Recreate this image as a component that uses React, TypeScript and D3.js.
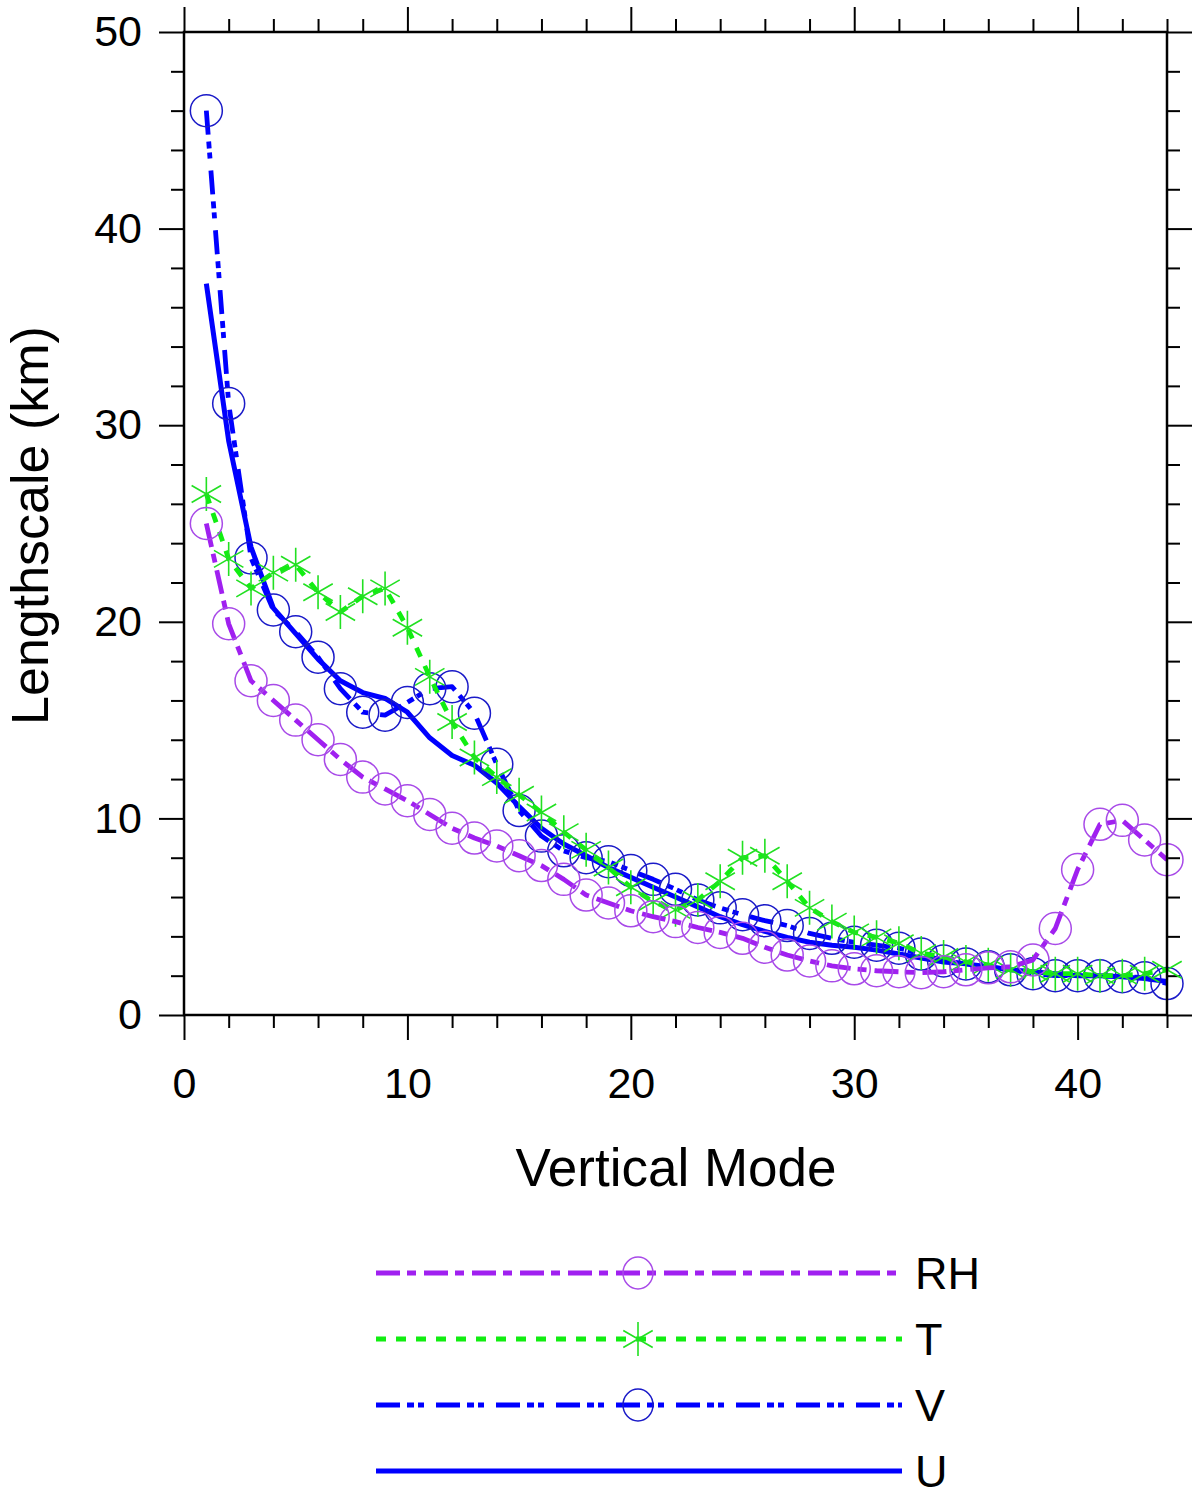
import React, { useRef, useEffect } from "react";
import * as d3 from "d3";

// vertical mode index (x)
const modes = [
  1, 2, 3, 4, 5, 6, 7, 8, 9, 10, 11, 12, 13, 14, 15, 16, 17, 18, 19, 20, 21, 22,
  23, 24, 25, 26, 27, 28, 29, 30, 31, 32, 33, 34, 35, 36, 37, 38, 39, 40, 41, 42, 43, 44,
];

// lengthscale (km) per variable
const rhValues = [
  25.0, 19.9, 17.0, 16.0, 15.0, 14.0, 13.0, 12.1, 11.5, 10.9, 10.2, 9.5, 9.0, 8.6, 8.1,
  7.6, 6.9, 6.1, 5.7, 5.3, 5.0, 4.75, 4.45, 4.2, 3.9, 3.45, 3.05, 2.75, 2.5, 2.35, 2.25,
  2.2, 2.15, 2.2, 2.3, 2.4, 2.45, 2.8, 4.4, 7.4, 9.7, 9.9, 8.9, 7.9,
];
const tValues = [
  26.5, 23.2, 21.7, 22.5, 22.9, 21.5, 20.5, 21.3, 21.7, 19.7, 17.2, 14.9, 13.1, 12.1,
  11.2, 10.3, 9.3, 8.4, 7.5, 6.5, 5.75, 5.35, 5.85, 6.8, 8.0, 8.1, 6.8, 5.45, 4.75, 4.2,
  3.95, 3.65, 3.15, 2.95, 2.7, 2.55, 2.3, 2.2, 2.1, 2.1, 2.0, 2.0, 2.1, 2.3,
];
const vValues = [
  46.0, 31.1, 23.25, 20.6, 19.5, 18.2, 16.6, 15.4, 15.25, 15.9, 16.6, 16.7, 15.35, 12.75,
  10.4, 9.1, 8.35, 8.0, 7.8, 7.35, 6.9, 6.4, 5.85, 5.45, 5.1, 4.8, 4.55, 4.15, 3.9, 3.7,
  3.55, 3.4, 3.1, 2.75, 2.6, 2.45, 2.3, 2.1, 2.0, 2.0, 2.0, 1.95, 1.9, 1.6,
];
const uValues = [
  37.2, 29.2, 23.8, 20.7, 19.4, 18.1, 17.0, 16.4, 16.1, 15.4, 14.1, 13.2, 12.7, 11.8,
  10.6, 9.5, 8.7, 8.1, 7.5, 7.0, 6.5, 6.0, 5.5, 5.0, 4.6, 4.25, 3.95, 3.7, 3.55, 3.45,
  3.3, 3.1, 2.9, 2.7, 2.6, 2.45, 2.3, 2.2, 2.1, 2.0, 2.0, 1.95, 1.85, 1.7,
];

const xMajor = [0, 10, 20, 30, 40];
const xMinor = [2, 4, 6, 8, 12, 14, 16, 18, 22, 24, 26, 28, 32, 34, 36, 38, 42, 44];
const yMajor = [0, 10, 20, 30, 40, 50];
const yMinor = [2, 4, 6, 8, 12, 14, 16, 18, 22, 24, 26, 28, 32, 34, 36, 38, 42, 44, 46, 48];

const legendLabels = ["RH", "T", "V", "U"];

const FONT = "'Liberation Sans', Arial, Helvetica, sans-serif";

type Series = {
  name: string;
  values: number[];
  color: string;
  markerColor: string;
  dash: string | null;
  width: number;
  marker: "circle" | "star" | null;
};

const series: Series[] = [
  { name: "U", values: uValues, color: "#0000ff", markerColor: "#0000ff", dash: null, width: 5, marker: null },
  { name: "V", values: vValues, color: "#0000ff", markerColor: "#1a1ac8", dash: "24,7,7,4,6,12", width: 4.8, marker: "circle" },
  { name: "T", values: tValues, color: "#11ee11", markerColor: "#22e022", dash: "10,10", width: 4.8, marker: "star" },
  { name: "RH", values: rhValues, color: "#a020f0", markerColor: "#a84ae8", dash: "24,7,9,8", width: 4.8, marker: "circle" },
];

const starPath = (r: number) => {
  const a = Math.PI / 6;
  const dx = r * Math.cos(a);
  const dy = r * Math.sin(a);
  return `M0,${-r}L0,${r}M${-dx},${-dy}L${dx},${dy}M${-dx},${dy}L${dx},${-dy}`;
};

const Chart: React.FC = () => {
  const svgRef = useRef<SVGSVGElement | null>(null);
  const width = 1200;
  const height = 1496;

  useEffect(() => {
    if (!svgRef.current) return;
    const svg = d3.select(svgRef.current);
    svg.selectAll("*").remove();

    const left = 184;
    const right = 1167;
    const top = 32;
    const bottom = 1015;

    const x = d3.scaleLinear().domain([0, 44]).range([left, right]);
    const y = d3.scaleLinear().domain([0, 50]).range([bottom, top]);

    const styleAxis = (g: d3.Selection<SVGGElement, unknown, null, undefined>) => {
      g.select(".domain").remove();
      g.selectAll("line").attr("stroke", "#000").attr("stroke-width", 2);
      g.selectAll("text")
        .attr("font-family", FONT)
        .attr("font-size", 43)
        .attr("fill", "#000");
    };

    // major + minor ticks on all four sides
    svg.append("g").attr("transform", `translate(${left},0)`)
      .call(d3.axisLeft(y).tickValues(yMajor).tickSize(25).tickPadding(17).tickFormat(d3.format("d")))
      .call(styleAxis);
    svg.append("g").attr("transform", `translate(${left},0)`)
      .call(d3.axisLeft(y).tickValues(yMinor).tickSize(13).tickFormat(() => ""))
      .call(styleAxis);
    svg.append("g").attr("transform", `translate(${right},0)`)
      .call(d3.axisRight(y).tickValues(yMajor).tickSize(25).tickFormat(() => ""))
      .call(styleAxis);
    svg.append("g").attr("transform", `translate(${right},0)`)
      .call(d3.axisRight(y).tickValues(yMinor).tickSize(13).tickFormat(() => ""))
      .call(styleAxis);
    svg.append("g").attr("transform", `translate(0,${bottom})`)
      .call(d3.axisBottom(x).tickValues(xMajor).tickSize(25).tickPadding(27).tickFormat(d3.format("d")))
      .call(styleAxis);
    svg.append("g").attr("transform", `translate(0,${bottom})`)
      .call(d3.axisBottom(x).tickValues(xMinor).tickSize(13).tickFormat(() => ""))
      .call(styleAxis);
    svg.append("g").attr("transform", `translate(0,${top})`)
      .call(d3.axisTop(x).tickValues(xMajor).tickSize(25).tickFormat(() => ""))
      .call(styleAxis);
    svg.append("g").attr("transform", `translate(0,${top})`)
      .call(d3.axisTop(x).tickValues(xMinor).tickSize(13).tickFormat(() => ""))
      .call(styleAxis);

    // plot data
    const plot = svg.append("g");
    const line = d3
      .line<number>()
      .x((_, i) => x(modes[i]))
      .y((d) => y(d));

    series.forEach((s) => {
      plot.append("path")
        .datum(s.values)
        .attr("fill", "none")
        .attr("stroke", s.color)
        .attr("stroke-width", s.width)
        .attr("stroke-dasharray", s.dash ?? null)
        .attr("stroke-linejoin", "round")
        .attr("d", line);

      if (s.marker === "circle") {
        plot.selectAll(null)
          .data(s.values)
          .enter()
          .append("circle")
          .attr("cx", (_, i) => x(modes[i]))
          .attr("cy", (d) => y(d))
          .attr("r", 16)
          .attr("fill", "none")
          .attr("stroke", s.markerColor)
          .attr("stroke-width", 1.5);
      } else if (s.marker === "star") {
        plot.selectAll(null)
          .data(s.values)
          .enter()
          .append("path")
          .attr("transform", (d, i) => `translate(${x(modes[i])},${y(d)})`)
          .attr("d", starPath(17))
          .attr("fill", "none")
          .attr("stroke", s.markerColor)
          .attr("stroke-width", 1.6);
      }
    });

    // frame
    svg.append("rect")
      .attr("x", left)
      .attr("y", top)
      .attr("width", right - left)
      .attr("height", bottom - top)
      .attr("fill", "none")
      .attr("stroke", "#000")
      .attr("stroke-width", 2.5);

    // axis titles
    svg.append("text")
      .attr("x", 676)
      .attr("y", 1186)
      .attr("text-anchor", "middle")
      .attr("font-family", FONT)
      .attr("font-size", 53)
      .text("Vertical Mode");

    svg.append("text")
      .attr("transform", `translate(48,${(top + bottom) / 2 + 2}) rotate(-90)`)
      .attr("text-anchor", "middle")
      .attr("font-family", FONT)
      .attr("font-size", 52)
      .text("Lengthscale (km)");

    // legend
    const legendY = d3.scalePoint<string>().domain(legendLabels).range([1273, 1471]);
    const legend = svg.append("g");
    legendLabels.forEach((name) => {
      const s = series.find((d) => d.name === name)!;
      const ly = legendY(name)!;
      legend.append("line")
        .attr("x1", 376)
        .attr("x2", 902)
        .attr("y1", ly)
        .attr("y2", ly)
        .attr("stroke", s.color)
        .attr("stroke-width", s.width)
        .attr("stroke-dasharray", s.dash ?? null);
      if (s.marker === "circle") {
        legend.append("ellipse")
          .attr("cx", 638)
          .attr("cy", ly)
          .attr("rx", 15)
          .attr("ry", 16)
          .attr("fill", "none")
          .attr("stroke", s.markerColor)
          .attr("stroke-width", 1.5);
      } else if (s.marker === "star") {
        legend.append("path")
          .attr("transform", `translate(638,${ly})`)
          .attr("d", starPath(17))
          .attr("fill", "none")
          .attr("stroke", s.markerColor)
          .attr("stroke-width", 1.6);
      }
      legend.append("text")
        .attr("x", 915)
        .attr("y", ly)
        .attr("dy", "0.36em")
        .attr("font-family", FONT)
        .attr("font-size", 45)
        .text(name);
    });
  }, []);

  return (
    <svg
      ref={svgRef}
      width={width}
      height={height}
      style={{ position: "absolute", left: 0, top: 0, background: "#fff" }}
    ></svg>
  );
};

export default function App() {
  return <Chart />;
}
